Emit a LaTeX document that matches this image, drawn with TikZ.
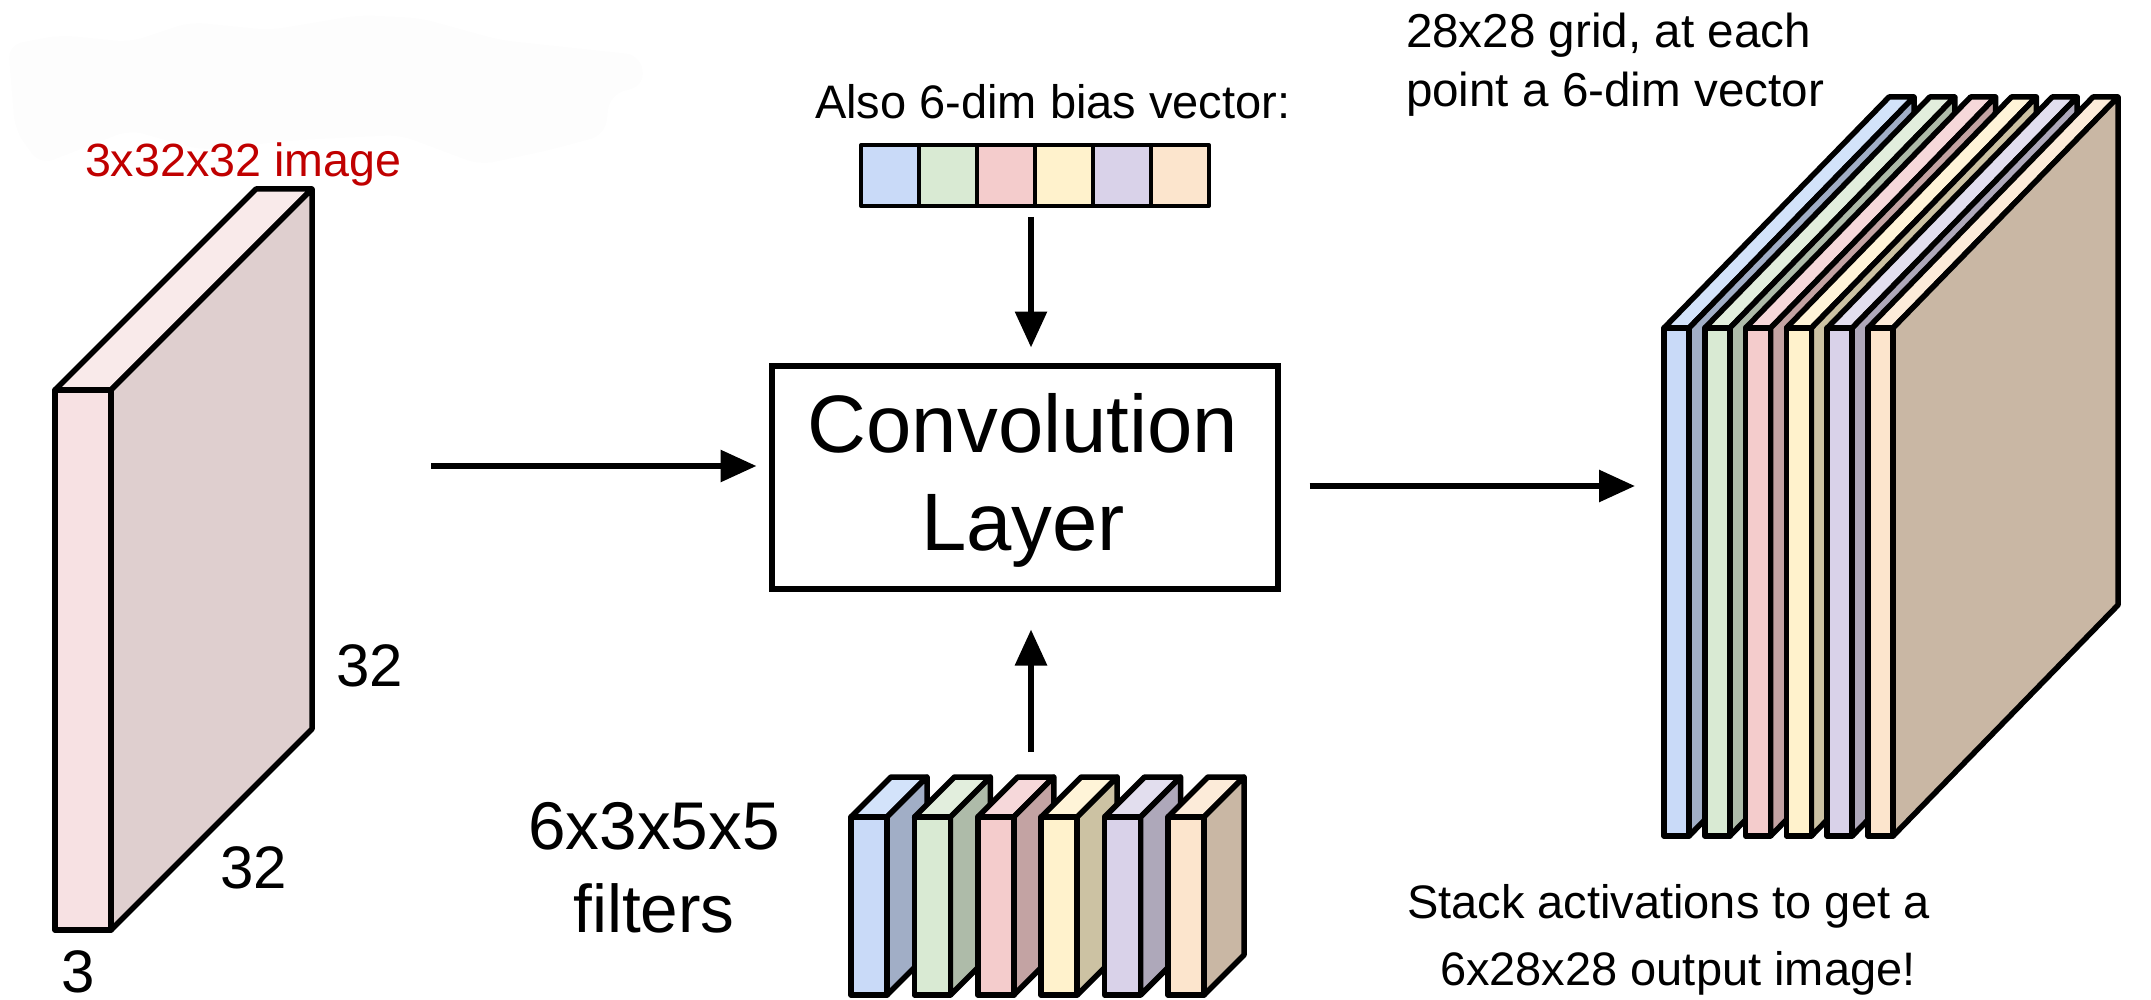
\documentclass[tikz,border=0pt]{standalone}
\usepackage{fontspec}
\setmainfont{Liberation Sans}
\usetikzlibrary{arrows.meta}
\definecolor{fA}{HTML}{C9DAF8}\definecolor{tA}{HTML}{D3E3FA}\definecolor{sA}{HTML}{A1AEC6}
\definecolor{fB}{HTML}{D9EAD3}\definecolor{tB}{HTML}{E2EEDD}\definecolor{sB}{HTML}{AEBBA9}
\definecolor{fC}{HTML}{F4CCCC}\definecolor{tC}{HTML}{F6D8DA}\definecolor{sC}{HTML}{C3A3A3}
\definecolor{fD}{HTML}{FFF2CC}\definecolor{tD}{HTML}{FFF4D8}\definecolor{sD}{HTML}{CCC2A3}
\definecolor{fE}{HTML}{D9D2E9}\definecolor{tE}{HTML}{E2DEEE}\definecolor{sE}{HTML}{AEA8BA}
\definecolor{fF}{HTML}{FCE5CD}\definecolor{tF}{HTML}{FCEBD9}\definecolor{sF}{HTML}{C9B7A4}
\definecolor{fP}{HTML}{F7E1E3}\definecolor{tP}{HTML}{F9EAEA}\definecolor{sP}{HTML}{DFCFCF}
\definecolor{redtxt}{HTML}{C00000}
\definecolor{smudge}{HTML}{FDFDFD}
\tikzset{
  edge/.style={draw=black,line width=5.5pt,line join=round},
  arr/.style={line width=6pt,-{Triangle[length=36pt,width=31pt]}},
  lab/.style={anchor=base west,inner sep=0pt,outer sep=0pt,font=\fontsize{47}{47}\selectfont},
  cen/.style={anchor=base,inner sep=0pt,outer sep=0pt},
  cell/.style={draw=black,line width=4pt,line join=round},
}
% x, y-top, y-bottom, w, dx, dy, front, top, side
\newcommand{\slab}[9]{%
  \path[edge,fill=#8] (#1,#2) -- ++(#5,-#6) -- ++(#4,0) -- ++(-#5,#6) -- cycle;
  \path[edge,fill=#9] (#1+#4,#2) -- ++(#5,-#6) -- (#1+#4+#5,#3-#6) -- (#1+#4,#3) -- cycle;
  \path[edge,fill=#7] (#1,#2) rectangle (#1+#4,#3);
}
\begin{document}
\begin{tikzpicture}[x=1pt,y=-1pt]
\useasboundingbox (0,0) rectangle (2151,1000);
% faint erased patch at the top left
\fill[smudge,rounded corners=14pt] (8,45) -- (60,35) -- (130,42) -- (190,22) -- (270,30) -- (360,15) -- (420,18) -- (500,40) -- (640,55) -- (645,85) -- (610,95) -- (605,135) -- (550,150) -- (480,165) -- (400,135) -- (300,140) -- (200,150) -- (130,130) -- (40,165) -- (15,130) -- cycle;
% input block
\slab{55}{390}{930}{56}{201}{201}{fP}{tP}{sP}
\node[lab,text=redtxt,font=\fontsize{46.6}{47}\selectfont] (imglabel) at (85,177) {3x32x32 image};
\node[cen,font=\fontsize{60}{60}\selectfont] (dimA) at (370,686) {32};
\node[cen,font=\fontsize{60}{60}\selectfont] (dimB) at (254,888) {32};
\node[cen,font=\fontsize{60}{60}\selectfont] (dimC) at (78,992) {3};
% bias vector
\node[lab] (biaslabel) at (815,119) {Also 6-dim bias vector:};
\foreach \i/\c in {0/fA,1/fB,2/fC,3/fD,4/fE,5/fF}
  \path[cell,fill=\c] (861+58*\i,145) rectangle (919+58*\i,206);
% convolution box
\node[draw=black,line width=6pt,minimum width=506pt,minimum height=223pt,inner sep=0pt,anchor=center] (conv) at (1024.5,477) {};
\node[cen,font=\fontsize{81.5}{81.5}\selectfont] (convA) at (1023,452) {Convolution};
\node[cen,font=\fontsize{81.5}{81.5}\selectfont] (convB) at (1023,550) {Layer};
% filters
\foreach \i/\n in {0/A,1/B,2/C,3/D,4/E,5/F}
  {\slab{851+63.4*\i}{817}{995}{36}{40}{40}{f\n}{t\n}{s\n}}
\node[cen,font=\fontsize{67.5}{67.5}\selectfont] (filtA) at (654,849) {6x3x5x5};
\node[cen,font=\fontsize{67.5}{67.5}\selectfont] (filtB) at (654,932) {filters};
% output stack
\foreach \i/\n in {0/A,1/B,2/C,3/D,4/E,5/F}
  {\slab{1664+40.8*\i}{328}{836}{25}{225}{231}{f\n}{t\n}{s\n}}
\node[lab,font=\fontsize{47.6}{48}\selectfont] (gridA) at (1406,48) {28x28 grid, at each};
\node[lab,font=\fontsize{47.6}{48}\selectfont] (gridB) at (1406,107) {point a 6-dim vector};
\node[lab] (stackA) at (1407,918) {Stack activations to get a};
\node[lab] (stackB) at (1440,985) {6x28x28 output image!};
% connectors
\coordinate (inS) at (431,466);
\coordinate (outS) at (1278,486);
\coordinate (stackW) at (1664,486);
\coordinate (biasS) at (1031,206);
\coordinate (filtN) at (1031,776);
\draw[arr,shorten >=12pt] (inS) -- (conv.west |- inS);
\draw[arr,shorten <=29pt,shorten >=29pt] (conv.east |- outS) -- (stackW);
\draw[arr,shorten <=11pt,shorten >=15pt] (biasS) -- (conv.north -| biasS);
\draw[arr,shorten <=24pt,shorten >=38pt] (filtN) -- (conv.south -| filtN);
\end{tikzpicture}
\end{document}
